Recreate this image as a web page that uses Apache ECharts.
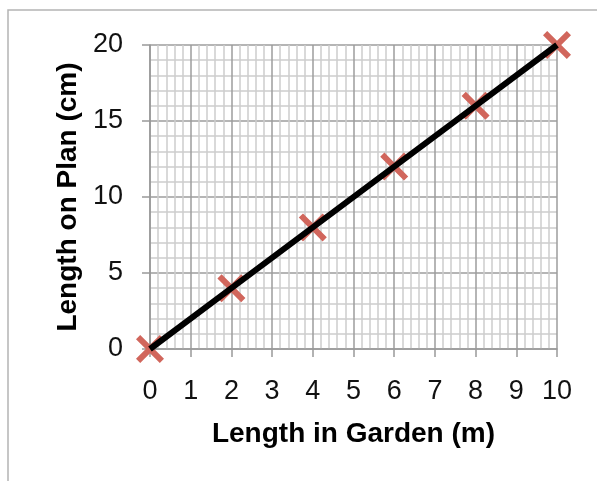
<!DOCTYPE html>
<html>
<head>
<meta charset="utf-8">
<script src="https://cdn.jsdelivr.net/npm/echarts@6/dist/echarts.min.js"></script>
<style>
  html, body { margin: 0; padding: 0; background: #fff; }
  #chart { width: 597px; height: 481px; }
</style>
</head>
<body>
<div id="chart"></div>
<script>
// данные: длина в саду (м) и на плане (см)
const gardenLength = [0, 2, 4, 6, 8, 10];
const planLength = [0, 4, 8, 12, 16, 20];

const points = gardenLength.map((x, i) => [x, planLength[i]]);

// крестик как многоугольник
const crossPath = 'path://M0,15 L15,0 L50,35 L85,0 L100,15 L65,50 L100,85 L85,100 L50,65 L15,100 L0,85 L35,50 Z';

const font = '"Liberation Sans", Arial, sans-serif';
const chart = echarts.init(document.getElementById('chart'));

const option = {
  animation: false,
  backgroundColor: '#fff',
  graphic: [
    {
      type: 'rect',
      shape: { x: 8, y: 10, width: 700, height: 600 },
      style: { fill: 'none', stroke: '#b4b4b4', lineWidth: 1.5 },
      silent: true
    }
  ],
  grid: { left: 150, top: 45, right: 40, bottom: 132 },
  xAxis: {
    type: 'value',
    min: 0,
    max: 10,
    interval: 1,
    name: 'Length in Garden (m)',
    nameLocation: 'middle',
    nameGap: 71,
    nameTextStyle: { fontFamily: font, fontWeight: 'bold', fontSize: 28, color: '#000' },
    axisLine: { show: true, lineStyle: { color: '#999', width: 1.5 } },
    axisTick: { show: true, length: 8, lineStyle: { color: '#999', width: 1.5 } },
    axisLabel: { fontFamily: font, fontSize: 27, color: '#111', margin: 29 },
    splitLine: { show: true, lineStyle: { color: '#9c9c9c', width: 1.5 } },
    minorTick: { show: false, splitNumber: 5 },
    minorSplitLine: { show: true, lineStyle: { color: '#cdcdcd', width: 1.5 } }
  },
  yAxis: {
    type: 'value',
    min: 0,
    max: 20,
    interval: 5,
    name: 'Length on Plan (cm)',
    nameLocation: 'middle',
    nameGap: 67,
    nameTextStyle: { fontFamily: font, fontWeight: 'bold', fontSize: 28, color: '#000' },
    axisLine: { show: true, lineStyle: { color: '#999', width: 1.5 } },
    axisTick: { show: true, length: 8, lineStyle: { color: '#999', width: 1.5 } },
    axisLabel: { fontFamily: font, fontSize: 27, color: '#111', margin: 27 },
    splitLine: { show: true, lineStyle: { color: '#9c9c9c', width: 1.5 } },
    minorTick: { show: false, splitNumber: 5 },
    minorSplitLine: { show: true, lineStyle: { color: '#cdcdcd', width: 1.5 } }
  },
  series: [
    {
      type: 'scatter',
      data: points,
      symbol: crossPath,
      symbolSize: 28,
      itemStyle: { color: '#d1665c', opacity: 1 },
      z: 2
    },
    {
      type: 'line',
      data: points,
      showSymbol: false,
      symbol: 'none',
      lineStyle: { color: '#000', width: 6 },
      z: 3
    }
  ]
};

chart.setOption(option);
</script>
</body>
</html>
